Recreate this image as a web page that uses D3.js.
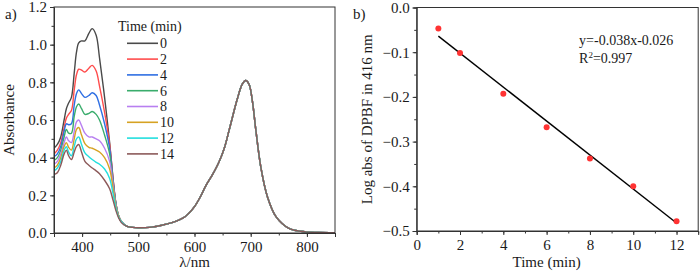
<!DOCTYPE html>
<html>
<head>
<meta charset="utf-8">
<script src="https://cdn.jsdelivr.net/npm/d3@7/dist/d3.min.js"></script>
<style>
  body { margin: 0; background: #fff; }
  svg text { font-family: "Liberation Serif", "Times New Roman", serif; fill: #1a1a1a; }
</style>
</head>
<body>
<svg id="chart" width="700" height="273"></svg>
<script>
// ---- panel a: UV-vis spectra ----
const times = [0, 2, 4, 6, 8, 10, 12, 14];
const colors = ["#4a4a4a", "#ff4d4d", "#2f6fe3", "#3aac6c", "#b87ff0", "#d6a223", "#23dede", "#8c5a5a"];

// Soret region (differs per time)
const wlSoret = [350, 356, 362, 368, 372, 376, 381, 386, 390, 394, 399, 405, 412, 418, 425, 431, 440, 449, 455, 460, 465, 470, 480];
const absSoret = [
  [0.45, 0.47, 0.51, 0.60, 0.66, 0.69, 0.72, 0.85, 0.96, 1.01, 1.02, 1.02, 1.06, 1.085, 1.05, 0.93, 0.72, 0.48, 0.29, 0.16, 0.09, 0.06, 0.035],
  [0.42, 0.44, 0.48, 0.56, 0.61, 0.63, 0.65, 0.76, 0.84, 0.87, 0.865, 0.855, 0.875, 0.89, 0.86, 0.78, 0.64, 0.47, 0.29, 0.16, 0.09, 0.06, 0.035],
  [0.405, 0.42, 0.46, 0.54, 0.58, 0.575, 0.58, 0.68, 0.74, 0.76, 0.74, 0.72, 0.73, 0.745, 0.73, 0.68, 0.58, 0.45, 0.28, 0.16, 0.09, 0.06, 0.035],
  [0.385, 0.40, 0.44, 0.51, 0.55, 0.53, 0.53, 0.62, 0.67, 0.685, 0.66, 0.63, 0.635, 0.645, 0.63, 0.60, 0.52, 0.42, 0.27, 0.155, 0.09, 0.06, 0.035],
  [0.365, 0.38, 0.42, 0.48, 0.51, 0.49, 0.48, 0.54, 0.59, 0.60, 0.57, 0.53, 0.51, 0.51, 0.50, 0.49, 0.45, 0.38, 0.26, 0.15, 0.09, 0.06, 0.035],
  [0.345, 0.36, 0.40, 0.46, 0.48, 0.455, 0.44, 0.50, 0.55, 0.56, 0.52, 0.475, 0.455, 0.45, 0.44, 0.43, 0.40, 0.34, 0.24, 0.145, 0.09, 0.06, 0.035],
  [0.33, 0.345, 0.38, 0.44, 0.458, 0.43, 0.41, 0.46, 0.50, 0.51, 0.47, 0.425, 0.405, 0.39, 0.375, 0.365, 0.34, 0.29, 0.21, 0.135, 0.085, 0.06, 0.035],
  [0.31, 0.32, 0.36, 0.42, 0.44, 0.41, 0.39, 0.43, 0.46, 0.47, 0.43, 0.38, 0.36, 0.345, 0.33, 0.315, 0.28, 0.235, 0.175, 0.12, 0.08, 0.055, 0.035]
];

// Q band (same for all times)
const wlQ = [490, 500, 520, 540, 560, 580, 590, 600, 610, 620, 632, 644, 653, 662, 676, 685, 691, 697, 703, 709, 718, 730, 745, 768, 798, 820, 850];
const absQ = [0.03, 0.028, 0.03, 0.04, 0.055, 0.08, 0.105, 0.14, 0.19, 0.25, 0.31, 0.38, 0.45, 0.55, 0.71, 0.79, 0.81, 0.79, 0.70, 0.55, 0.35, 0.19, 0.087, 0.025, 0.006, 0.003, 0.002];

// ---- panel b: log abs vs time ----
const tPts = [1, 2, 4, 6, 8, 10, 12];
const logAbs = [-0.047, -0.102, -0.193, -0.268, -0.338, -0.400, -0.478];
const fitX = [1, 12];
const fitY = [-0.064, -0.482];

const svg = d3.select("#chart");
const FS = 15;

// Hàm vẽ khung + trục
function drawFrame(g, x, y, w, h, xTicks, xMinor, yTicks, yMinor, xFmt, yFmt) {
  g.append("g")
    .attr("transform", `translate(0,${h})`)
    .call(d3.axisBottom(x).tickValues(xMinor).tickSize(2.5).tickFormat(""))
    .call(a => a.select(".domain").remove());
  g.append("g")
    .call(d3.axisLeft(y).tickValues(yMinor).tickSize(2.5).tickFormat(""))
    .call(a => a.select(".domain").remove());
  const ax = g.append("g")
    .attr("transform", `translate(0,${h})`)
    .call(d3.axisBottom(x).tickValues(xTicks).tickSize(4).tickPadding(4).tickFormat(xFmt));
  const ay = g.append("g")
    .call(d3.axisLeft(y).tickValues(yTicks).tickSize(4).tickPadding(3).tickFormat(yFmt));
  [ax, ay].forEach(a => a.selectAll("text").style("font-size", FS + "px").attr("fill", "#1a1a1a"));
  g.selectAll(".tick line").attr("stroke", "#333");
  g.selectAll(".domain").attr("stroke", "#333");
  g.append("rect")
    .attr("width", w).attr("height", h)
    .attr("fill", "none").attr("stroke", "#333").attr("stroke-width", 1);
}

// ---------- Panel a ----------
const mA = {left: 54, top: 7, w: 281, h: 226};
const gA = svg.append("g").attr("transform", `translate(${mA.left},${mA.top})`);
const xA = d3.scaleLinear().domain([350, 850]).range([0, mA.w]);
const yA = d3.scaleLinear().domain([0, 1.2]).range([mA.h, 0]);

gA.append("clipPath").attr("id", "clipA")
  .append("rect").attr("width", mA.w).attr("height", mA.h);

const lineA = d3.line()
  .x(d => xA(d[0]))
  .y(d => yA(d[1]))
  .curve(d3.curveCatmullRom.alpha(0.5));

const spectra = times.map((t, i) => {
  const pts = wlSoret.map((w, j) => [w, absSoret[i][j]])
    .concat(wlQ.map((w, j) => [w, absQ[j]]));
  return {t, color: colors[i], pts};
});

gA.append("g").attr("clip-path", "url(#clipA)")
  .selectAll("path")
  .data(spectra)
  .enter().append("path")
    .attr("d", d => lineA(d.pts))
    .attr("fill", "none")
    .attr("stroke", d => d.color)
    .attr("stroke-width", 1.4);

drawFrame(gA, xA, yA, mA.w, mA.h,
  [400, 500, 600, 700, 800], d3.range(350, 851, 50),
  [0, 0.2, 0.4, 0.6, 0.8, 1.0, 1.2], d3.range(0, 1.21, 0.1),
  d3.format("d"), d3.format(".1f"));

// Chú giải
const leg = svg.append("g");
leg.append("text").attr("x", 118).attr("y", 31).style("font-size", "14px").text("Time (min)");
const legRows = leg.selectAll("g.row")
  .data(spectra)
  .enter().append("g")
    .attr("class", "row")
    .attr("transform", (d, i) => `translate(0,${43.3 + i * 15.8})`);
legRows.append("line")
  .attr("x1", 127).attr("x2", 158)
  .attr("stroke", d => d.color).attr("stroke-width", 1.6);
legRows.append("text")
  .attr("x", 160).attr("dy", "0.35em")
  .style("font-size", "14px")
  .text(d => d.t);

svg.append("text").attr("x", 5).attr("y", 19).style("font-size", FS + "px").text("a)");
svg.append("text")
  .attr("transform", `translate(14,${mA.top + mA.h / 2}) rotate(-90)`)
  .attr("text-anchor", "middle")
  .style("font-size", FS + "px")
  .text("Absorbance");
svg.append("text")
  .attr("x", mA.left + xA(600)).attr("y", 267)
  .attr("text-anchor", "middle")
  .style("font-size", FS + "px")
  .text("λ/nm");

// ---------- Panel b ----------
const mB = {left: 416.7, top: 7.5, w: 281.5, h: 223.5};
const gB = svg.append("g").attr("transform", `translate(${mB.left},${mB.top})`);
const xB = d3.scaleLinear().domain([0, 13]).range([0, mB.w]);
const yB = d3.scaleLinear().domain([-0.5, 0]).range([mB.h, 0]);

gB.append("line")
  .attr("x1", xB(fitX[0])).attr("y1", yB(fitY[0]))
  .attr("x2", xB(fitX[1])).attr("y2", yB(fitY[1]))
  .attr("stroke", "#000").attr("stroke-width", 1.4);

gB.selectAll("circle")
  .data(tPts.map((t, i) => ({t, v: logAbs[i]})))
  .enter().append("circle")
    .attr("cx", d => xB(d.t))
    .attr("cy", d => yB(d.v))
    .attr("r", 3)
    .attr("fill", "#ff3333");

drawFrame(gB, xB, yB, mB.w, mB.h,
  d3.range(0, 13, 2), d3.range(0, 13.01, 1),
  [-0.5, -0.4, -0.3, -0.2, -0.1, 0], d3.range(-0.5, 0.001, 0.05),
  d3.format("d"), d3.format(".1f"));

gB.append("text").attr("x", xB(7.5)).attr("y", yB(-0.083))
  .style("font-size", "14px").text("y=-0.038x-0.026");
const r2 = gB.append("text").attr("x", xB(7.5)).attr("y", yB(-0.125))
  .style("font-size", "14px");
r2.append("tspan").text("R");
r2.append("tspan").attr("dy", -5).style("font-size", "9px").text("2");
r2.append("tspan").attr("dy", 5).text("=0.997");

svg.append("text").attr("x", 353).attr("y", 19).style("font-size", FS + "px").text("b)");
svg.append("text")
  .attr("transform", `translate(372,${mB.top + mB.h / 2}) rotate(-90)`)
  .attr("text-anchor", "middle")
  .style("font-size", FS + "px")
  .text("Log abs of DPBF in 416 nm");
svg.append("text")
  .attr("x", mB.left + xB(6)).attr("y", 267)
  .attr("text-anchor", "middle")
  .style("font-size", FS + "px")
  .text("Time (min)");
</script>
</body>
</html>
